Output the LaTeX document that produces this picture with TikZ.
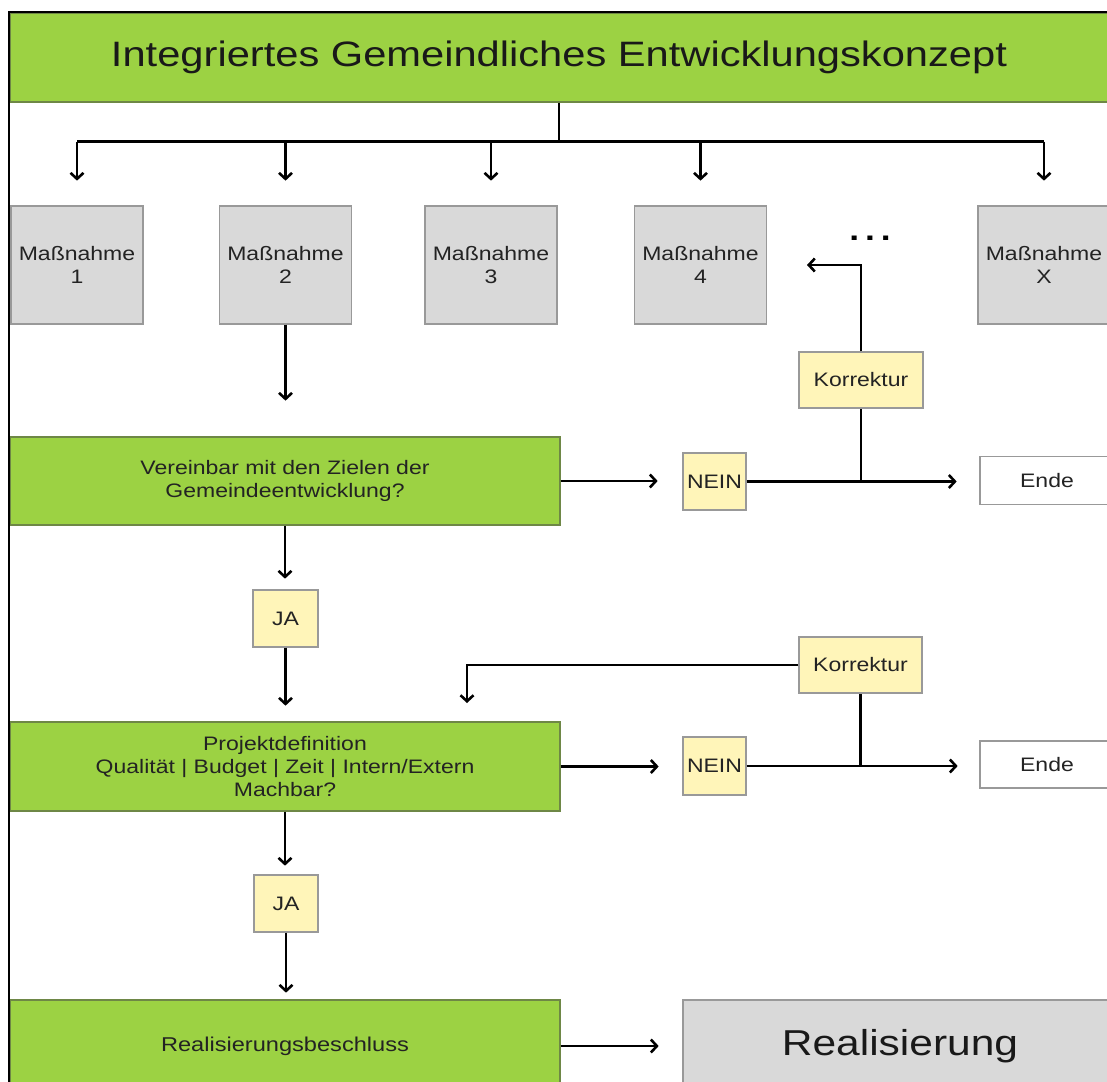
\documentclass[tikz,border=0pt]{standalone}
\usepackage{fontspec}
\setmainfont{Liberation Sans}[FakeStretch=1.18]
\usetikzlibrary{arrows.meta}
\definecolor{gruen}{RGB}{156,210,67}
\definecolor{gruenrand}{RGB}{110,135,70}
\definecolor{grau}{RGB}{217,217,217}
\definecolor{gelb}{RGB}{255,245,185}
\definecolor{schrift}{RGB}{35,35,35}
\tikzset{
  kasten/.style={draw=gray!80, line width=1.3pt, inner sep=0pt, align=center,
    text=schrift, font=\fontsize{19.5}{23}\selectfont},
  massn/.style={kasten, fill=grau, minimum width=132pt, minimum height=118pt},
  frage/.style={kasten, draw=gruenrand, fill=gruen, minimum width=550pt,
    minimum height=88pt, font=\fontsize{19.5}{23}\selectfont},
  antwort/.style={kasten, fill=gelb, minimum height=57pt},
  ende/.style={kasten, fill=white, minimum width=134pt, minimum height=48pt},
  linie/.style={line width=2.6pt},
}
\begin{document}
\begin{tikzpicture}[x=1pt,y=-1pt,>={Straight Barb[length=6pt,width=13pt]}]
\useasboundingbox (0,0) rectangle (1107,1081);
\clip (0,0) rectangle (1107,1081);

\node [kasten, draw=gruenrand, fill=gruen, minimum width=1098pt, minimum height=89pt,
  text=black!90, font=\fontsize{35.3}{40}\selectfont] (titel) at (559,57.5)
  {Integriertes Gemeindliches Entwicklungskonzept};

\foreach \n/\x/\t in {1/77/1,2/285.5/2,3/491/3,4/700.5/4,x/1044/X}
	\node [massn] (m\n) at (\x,265) {Maßnahme\\\t};
\node [font=\bfseries\fontsize{30}{30}\selectfont] (punkte) at (870,238)
  {.\hspace{6pt}.\hspace{6pt}.};

% Verteiler
\draw [linie] (titel.south) -- ++(0,39) coordinate (verteiler);
\draw [linie] (m1.north |- verteiler) -- (mx.north |- verteiler);
\foreach \n in {1,2,3,4,x}
	\draw [linie,->] (m\n.north |- verteiler) -- ++(0,39);
\draw [linie,->] (m2.south) -- ++(0,76);

\node [frage] (f1) at (285,481) {Vereinbar mit den Zielen der\\Gemeindeentwicklung?};
\node [antwort, minimum width=63pt] (nein1) at (714.5,481.5) {NEIN};
\node [ende] (ende1) at (1047,480.5) {Ende};
\node [antwort, minimum width=124pt, minimum height=56pt] (k1) at (861,380) {Korrektur};
\draw [linie,->] (f1.east) -- ++(97,0);
\draw [linie,->] (nein1.east) -- ++(210,0);
\coordinate (j1) at (k1.south |- nein1.east);
\coordinate (r1) at (807,265);
\draw [linie] (j1) -- (k1.south);
\draw [linie,->] (k1.north) |- (r1);

\node [antwort, minimum width=65pt] (ja1) at (285.5,618.5) {JA};
\draw [linie,->] (f1.south) -- ++(0,53);
\draw [linie,->] (ja1.south) -- ++(0,58);

\node [frage, minimum height=89pt] (f2) at (285,766.5)
  {Projektdefinition\\Qualität | Budget | Zeit | Intern/Extern\\Machbar?};
\node [antwort, minimum width=63pt, minimum height=58pt] (nein2) at (714.5,766) {NEIN};
\node [ende, minimum height=47pt] (ende2) at (1047,764.5) {Ende};
\node [antwort, minimum width=123pt, minimum height=56pt] (k2) at (860.5,665) {Korrektur};
\draw [linie,->] (f2.east) -- ++(98,0);
\draw [linie,->] (nein2.east) -- ++(211,0);
\coordinate (j2) at (k2.south |- nein2.east);
\coordinate (r2) at (467,703);
\draw [linie] (j2) -- (k2.south);
\draw [linie,->] (k2.west) -| (r2);

\node [antwort, minimum width=64pt] (ja2) at (286,903.5) {JA};
\draw [linie,->] (f2.south) -- ++(0,54);
\draw [linie,->] (ja2.south) -- ++(0,60);

\node [frage, minimum height=92pt, font=\fontsize{20}{23}\selectfont] (f3) at (285,1046)
  {Realisierungsbeschluss};
\node [kasten, fill=grau, minimum width=434pt, minimum height=92pt, text=black!90,
  font=\fontsize{36}{40}\selectfont] (real) at (900,1046) {Realisierung};
\draw [linie,->] (f3.east) -- ++(98,0);

\draw [line width=2pt] (9,1100) -- (9,12) -- (1120,12);
\end{tikzpicture}
\end{document}
